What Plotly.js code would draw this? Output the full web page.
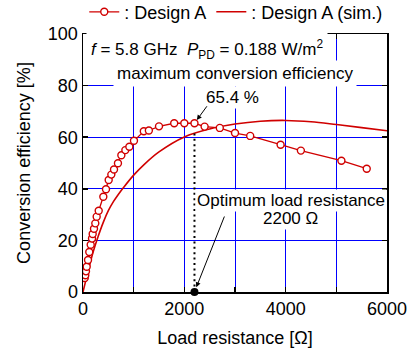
<!DOCTYPE html>
<html>
<head>
<meta charset="utf-8">
<script src="https://cdn.plot.ly/plotly-3.0.1.min.js"></script>
<style>
html,body{margin:0;padding:0;background:#fff;}
#chart{width:411px;height:356px;}
</style>
</head>
<body>
<div id="chart"></div>
<script>
// Measured: Design A
const resistance = [34, 45, 59, 73, 99, 124, 152, 178, 191, 217, 243, 270, 310, 401, 454, 507, 559, 612, 690, 757, 836, 915, 1006, 1200, 1300, 1500, 1800, 2000, 2200, 2400, 2700, 3000, 3300, 3900, 4300, 5100, 5600];
const efficiency = [5.4, 6.5, 8.0, 9.8, 12.4, 15.5, 18.3, 20.7, 22.5, 24.5, 26.6, 29.2, 31.5, 36.9, 39.8, 43.4, 45.5, 47.5, 49.9, 53.0, 55.0, 56.3, 58.6, 62.3, 62.6, 64.2, 65.4, 65.4, 65.4, 64.1, 63.6, 61.6, 60.5, 57.1, 54.8, 50.9, 47.8];

// Simulation: Design A (sim.)
const simResistance = [0, 100, 200, 300, 400, 500, 600, 700, 800, 1000, 1200, 1500, 2000, 2500, 3000, 3500, 4000, 4500, 5000, 5500, 6000];
const simEfficiency = [0, 8, 15.5, 21.6, 27, 31.5, 35, 37.9, 40.5, 45.3, 49.3, 54.3, 60.1, 63.2, 65.1, 66.2, 66.5, 66.0, 64.9, 63.7, 62.5];

// Optimum marker
const optimumR = [2200, 2200];
const optimumGuideEff = [0, 62.5];
const optimumPointR = [2200];
const optimumPointEff = [0];
const peakEff = 65.4;

const xTickVals = [0, 1000, 2000, 3000, 4000, 5000, 6000];
const xTickText = ['0', '', '2000', '', '4000', '', '6000'];
const yTickVals = [0, 20, 40, 60, 80, 100];

const red = '#d00000';
const font = 'Liberation Sans, Arial, sans-serif';

const traces = [
  {
    x: simResistance, y: simEfficiency, type: 'scatter', mode: 'lines',
    line: {color: red, width: 1.6, shape: 'spline', smoothing: 1},
    name: ': Design A (sim.)'
  },
  {
    x: optimumR, y: optimumGuideEff, type: 'scatter', mode: 'lines',
    line: {color: '#000', width: 2, dash: '2px,3.4px'},
    showlegend: false, hoverinfo: 'skip'
  },
  {
    x: resistance, y: efficiency, type: 'scatter', mode: 'lines+markers',
    line: {color: red, width: 1.3},
    marker: {symbol: 'circle', size: 7, color: '#fff', line: {color: red, width: 1.4}},
    name: ': Design A'
  },
  {
    x: optimumPointR, y: optimumPointEff, type: 'scatter', mode: 'markers',
    marker: {color: '#000', size: 8}, cliponaxis: false,
    showlegend: false, hoverinfo: 'skip'
  }
];

const axisCommon = {
  showline: true, linecolor: '#000', linewidth: 1.5, mirror: 'ticks',
  ticks: 'inside', ticklen: 5, tickwidth: 1.5, tickcolor: '#000',
  showgrid: true, gridcolor: '#0000ff', gridwidth: 1, zeroline: false,
  tickfont: {family: font, size: 18, color: '#000'}
};

const layout = {
  width: 411, height: 356,
  margin: {l: 83, r: 24, t: 34, b: 64},
  paper_bgcolor: '#fff', plot_bgcolor: '#fff',
  font: {family: font, color: '#000'},
  showlegend: true,
  legend: {
    orientation: 'h', xref: 'container', yref: 'container',
    x: 0.205, y: 0.966, xanchor: 'left', yanchor: 'middle',
    font: {family: font, size: 18, color: '#000'},
    bgcolor: 'rgba(0,0,0,0)', borderwidth: 0, traceorder: 'reversed'
  },
  xaxis: Object.assign({}, axisCommon, {
    range: [0, 6000], tickmode: 'array', tickvals: xTickVals, ticktext: xTickText,
    title: {text: 'Load resistance [Ω]', font: {family: font, size: 18, color: '#000'}, standoff: 13}
  }),
  yaxis: Object.assign({}, axisCommon, {
    range: [0, 100], tickmode: 'array', tickvals: yTickVals,
    title: {text: 'Conversion efficiency [%]', font: {family: font, size: 18, color: '#000'}, standoff: 12}
  }),
  annotations: [
    {xref: 'paper', yref: 'paper', x: 0.01, y: 0.938, xanchor: 'left', yanchor: 'middle',
     text: '<i>f</i> = 5.8 GHz  <i>P</i><sub>PD</sub> = 0.188 W/m<sup>2</sup>',
     showarrow: false, bgcolor: '#fff', borderpad: 4, font: {family: font, size: 17, color: '#000'}},
    {xref: 'paper', yref: 'paper', x: 0.1, y: 0.845, xanchor: 'left', yanchor: 'middle',
     text: 'maximum conversion efficiency', showarrow: false, bgcolor: '#fff', borderpad: 3,
     font: {family: font, size: 17, color: '#000'}},
    {xref: 'x', yref: 'y', x: 2960, y: 75.5, text: peakEff.toFixed(1) + ' %', showarrow: false,
     bgcolor: '#fff', borderpad: 1, font: {family: font, size: 17, color: '#000'}},
    {xref: 'x', yref: 'y', x: optimumPointR[0], y: peakEff, text: '', showarrow: true,
     ax: 13.5, ay: -18.5, arrowhead: 2, arrowsize: 1, arrowwidth: 1, arrowcolor: '#000', standoff: 4},
    {xref: 'x', yref: 'y', x: 4105, y: 35.5, text: 'Optimum load resistance', showarrow: false,
     bgcolor: '#fff', borderpad: 1, font: {family: font, size: 17, color: '#000'}},
    {xref: 'x', yref: 'y', x: 4105, y: 28.5, text: optimumR[0] + ' Ω', showarrow: false,
     bgcolor: '#fff', borderpad: 1, font: {family: font, size: 17, color: '#000'}},
    {xref: 'x', yref: 'y', x: optimumPointR[0], y: 0, text: '', showarrow: true,
     ax: 30.5, ay: -77, arrowhead: 2, arrowsize: 1, arrowwidth: 1, arrowcolor: '#000', standoff: 5}
  ]
};

Plotly.newPlot('chart', traces, layout, {staticPlot: true, displayModeBar: false});
</script>
</body>
</html>
